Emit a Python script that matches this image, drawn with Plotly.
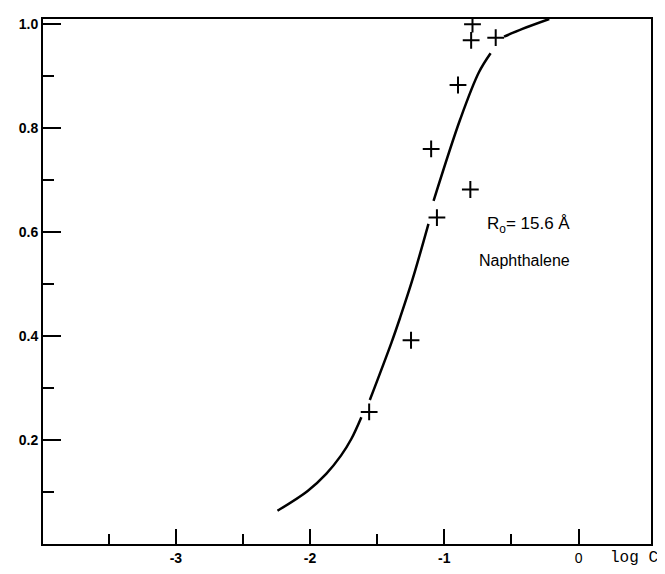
import plotly.graph_objects as go

# Measured points (log C, fraction)
pts_x = [-1.56, -1.248, -1.055, -0.806, -1.098, -0.898, -0.80, -0.617, -0.79]
pts_y = [0.254, 0.392, 0.628, 0.682, 0.760, 0.883, 0.969, 0.974, 1.0]

# Fitted curve (None = pen gaps)
curve_x = [-2.243, -2.018, -1.88, -1.77, -1.693, -1.618, None,
           -1.555, -1.393, -1.33, -1.238, -1.118, None,
           -1.08, -0.88, -0.743, -0.655, None,
           -0.555, -0.418, -0.218]
curve_y = [0.064, 0.102, 0.135, 0.170, 0.202, 0.244, None,
           0.277, 0.388, 0.435, 0.508, 0.616, None,
           0.660, 0.818, 0.907, 0.944, None,
           0.976, 0.991, 1.01]

x_tick_vals = [-3, -2, -1, 0]
x_tick_text = ["<b>-3</b>", "<b>-2</b>", "<b>-1</b>", "0"]
x_minor_vals = [-3.5, -2.5, -1.5, -0.5]
y_tick_vals = [0.2, 0.4, 0.6, 0.8, 1.0]
y_tick_text = ["<b>0.2</b>", "<b>0.4</b>", "<b>0.6</b>", "<b>0.8</b>", "<b>1.0</b>"]
y_minor_vals = [0.1, 0.3, 0.5, 0.7, 0.9]

fig = go.Figure()
fig.add_trace(go.Scatter(x=curve_x, y=curve_y, mode="lines",
                         line=dict(color="black", width=2.5, shape="spline"),
                         connectgaps=False, hoverinfo="skip"))
fig.add_trace(go.Scatter(x=pts_x, y=pts_y, mode="markers",
                         marker=dict(symbol="cross-thin", size=12,
                                     line=dict(color="black", width=2))))

fig.add_annotation(x=-0.375, y=0.614, xref="x", yref="y",
                   text="R<sub>o</sub>= 15.6 Å", showarrow=False,
                   font=dict(family="Liberation Sans, Arial", size=17, color="black"))
fig.add_annotation(x=-0.40, y=0.545, xref="x", yref="y",
                   text="Naphthalene", showarrow=False,
                   font=dict(family="Liberation Sans, Arial", size=16, color="black"))
fig.add_annotation(x=0.41, y=0, xref="x", yref="paper", yanchor="top", yshift=-3,
                   text="log C", showarrow=False,
                   font=dict(family="Liberation Mono, Courier New", size=16, color="black"))

# page body has an 8px margin: figure is offset by 8px, so size/margins compensate
fig.update_layout(
    width=657, height=566,
    margin=dict(l=35, r=14, t=8, b=27),
    plot_bgcolor="white", paper_bgcolor="white",
    showlegend=False,
)
fig.update_xaxes(range=[-3.99, 0.54], showgrid=False, zeroline=False,
                 showline=True, mirror=True, linecolor="black", linewidth=2,
                 tickmode="array", tickvals=x_tick_vals, ticktext=x_tick_text,
                 ticks="inside", ticklen=15, tickwidth=2, tickcolor="black",
                 tickfont=dict(family="Liberation Sans, Arial", size=14, color="black"),
                 minor=dict(tickvals=x_minor_vals, ticks="inside", ticklen=10,
                            tickwidth=2, tickcolor="black", showgrid=False))
fig.update_yaxes(range=[0, 1.01], showgrid=False, zeroline=False,
                 showline=True, mirror=True, linecolor="black", linewidth=2,
                 tickmode="array", tickvals=y_tick_vals, ticktext=y_tick_text,
                 ticks="inside", ticklen=18, tickwidth=2, tickcolor="black",
                 tickfont=dict(family="Liberation Sans, Arial", size=14, color="black"),
                 minor=dict(tickvals=y_minor_vals, ticks="inside", ticklen=11,
                            tickwidth=2, tickcolor="black", showgrid=False))

fig.write_html("out.html")
